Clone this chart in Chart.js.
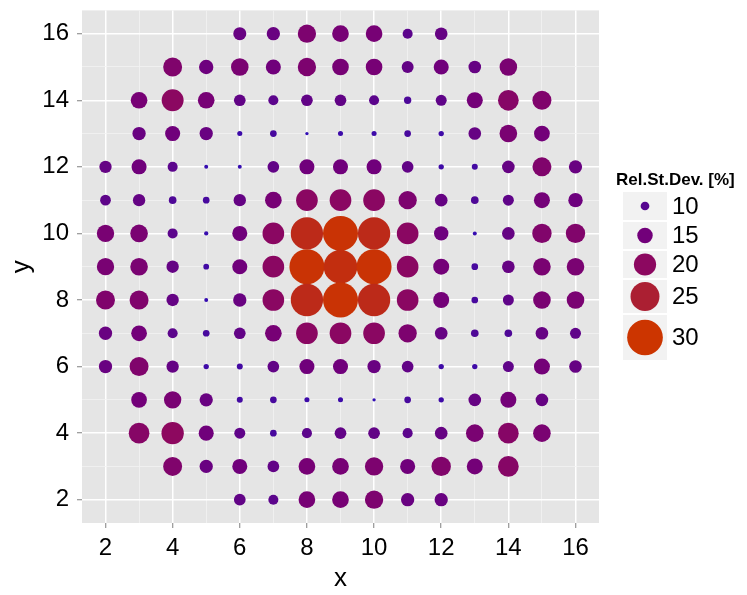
<!DOCTYPE html>
<html>
<head>
<meta charset="utf-8">
<script src="https://cdn.jsdelivr.net/npm/chart.js@4/dist/chart.umd.min.js"></script>
<style>
  html, body { margin: 0; padding: 0; background: #ffffff; }
  #wrap { width: 747px; height: 595px; }
</style>
</head>
<body>
<div id="wrap"><canvas id="c" width="747" height="595"></canvas></div>
<script>
// Relative standard deviation [%] on an integer grid, one array per row (y), left to right.
const rowY = [16, 15, 14, 13, 12, 11, 10, 9, 8, 7, 6, 5, 4, 3, 2];
const rowFirstX = [6, 4, 3, 3, 2, 2, 2, 2, 2, 2, 2, 3, 3, 4, 6];
const rsdY16 = [13.2, 13.4, 17.1, 15.9, 15.9, 11.0, 12.9];
const rsdY15 = [17.6, 14.2, 16.6, 14.7, 17.1, 15.9, 15.9, 12.4, 14.7, 12.9, 16.6];
const rsdY14 = [15.9, 19.8, 15.9, 12.2, 11.0, 12.2, 12.2, 11.0, 9.0, 11.7, 15.4, 18.9, 17.6];
const rsdY13 = [13.4, 14.7, 13.4, 7.3, 8.5, 6.0, 7.3, 7.3, 8.5, 7.5, 12.9, 16.6, 15.2];
const rsdY12 = [12.7, 14.7, 11.0, 6.5, 6.5, 12.2, 14.7, 14.7, 14.7, 12.2, 7.5, 8.0, 12.9, 17.6, 13.4];
const rsdY11 = [11.5, 12.7, 9.2, 8.5, 12.7, 15.9, 19.6, 19.6, 19.6, 17.1, 12.9, 9.2, 11.7, 15.4, 14.2];
const rsdY10 = [16.4, 16.6, 11.0, 6.7, 14.7, 19.6, 27.5, 29.5, 27.5, 19.6, 14.2, 6.5, 12.9, 17.9, 17.9];
const rsdY9  = [16.4, 16.6, 12.7, 7.8, 14.7, 19.6, 29.5, 28.5, 29.5, 19.6, 15.4, 8.5, 12.9, 16.6, 16.6];
const rsdY8  = [17.6, 17.6, 12.7, 6.5, 13.4, 19.6, 27.5, 29.5, 27.5, 19.6, 15.4, 8.5, 11.7, 16.6, 16.6];
const rsdY7  = [13.4, 15.2, 11.0, 8.5, 12.2, 15.9, 19.6, 19.6, 19.6, 17.1, 12.9, 9.2, 9.2, 12.9, 11.7];
const rsdY6  = [13.4, 17.6, 12.7, 7.5, 8.0, 12.2, 14.7, 14.7, 13.4, 12.2, 7.5, 7.5, 11.7, 15.4, 12.9];
const rsdY5  = [15.2, 16.4, 13.4, 8.0, 8.5, 7.3, 7.3, 6.0, 8.5, 7.5, 12.9, 15.4, 12.9];
const rsdY4  = [18.9, 20.1, 14.7, 11.7, 8.5, 11.0, 12.2, 12.2, 11.0, 12.9, 16.6, 18.9, 16.6];
const rsdY3  = [17.6, 13.4, 14.7, 12.2, 15.9, 15.9, 17.1, 14.7, 17.9, 15.4, 18.9];
const rsdY2  = [12.2, 11.0, 15.9, 15.9, 17.1, 13.4, 13.4];
const rsdRows = [rsdY16, rsdY15, rsdY14, rsdY13, rsdY12, rsdY11, rsdY10, rsdY9, rsdY8,
                 rsdY7, rsdY6, rsdY5, rsdY4, rsdY3, rsdY2];

// Axis ticks and legend breaks
const axisTicks = [2, 3, 4, 5, 6, 7, 8, 9, 10, 11, 12, 13, 14, 15, 16];
const legendBreaks = [10, 15, 20, 25, 30];

const FONT = "'Liberation Sans', Arial, sans-serif";

// bubbles stay inside the panel, so no extra layout room is reserved for them
Chart.registry.getController('bubble').prototype.getMaxOverflow = function () { return 0; };

// point diameter (px) grows linearly with the value
function radiusOf(v) { return Math.max(1.2, 0.675 * (v - 3.55)); }

// colour ramp: blue-violet (low) -> purple -> crimson -> orange-red (high)
const colorStops = [
  [5,  [40, 16, 190]],
  [10, [86, 6, 144]],
  [15, [114, 0, 122]],
  [20, [140, 8, 96]],
  [25, [171, 31, 50]],
  [30, [204, 53, 0]]
];
function colorOf(v) {
  if (v <= colorStops[0][0]) return 'rgb(' + colorStops[0][1].join(',') + ')';
  for (let i = 1; i < colorStops.length; i++) {
    const [v1, c1] = colorStops[i];
    const [v0, c0] = colorStops[i - 1];
    if (v <= v1) {
      const t = (v - v0) / (v1 - v0);
      const c = c0.map((a, k) => Math.round(a + (c1[k] - a) * t));
      return 'rgb(' + c.join(',') + ')';
    }
  }
  return 'rgb(' + colorStops[colorStops.length - 1][1].join(',') + ')';
}

const points = [];
rsdRows.forEach((row, i) => {
  row.forEach((v, j) => {
    points.push({ x: rowFirstX[i] + j, y: rowY[i], r: radiusOf(v), v: v });
  });
});

// panel background, drawn beneath the grid
const panelBg = {
  id: 'panelBg',
  beforeDraw(chart) {
    const { ctx, chartArea: a } = chart;
    ctx.save();
    ctx.fillStyle = '#e5e5e5';
    ctx.fillRect(a.left, a.top, a.right - a.left, a.bottom - a.top);
    ctx.restore();
  }
};

// size/colour legend at the right
const sizeLegend = {
  id: 'sizeLegend',
  afterDraw(chart) {
    const ctx = chart.ctx;
    ctx.save();
    ctx.fillStyle = '#000';
    ctx.font = 'bold 17px ' + FONT;
    ctx.textBaseline = 'middle';
    ctx.textAlign = 'left';
    ctx.fillText('Rel.St.Dev. [%]', 616, 180);
    const keys = [[192, 28], [222, 27], [251, 27], [280, 33], [315, 45]];
    const kx = 623, kw = 44;
    legendBreaks.forEach((b, i) => {
      const [top, h] = keys[i];
      ctx.fillStyle = '#f2f2f2';
      ctx.fillRect(kx, top, kw, h);
      const cy = top + h / 2;
      ctx.beginPath();
      ctx.arc(kx + kw / 2, cy, radiusOf(b), 0, Math.PI * 2);
      ctx.fillStyle = colorOf(b);
      ctx.fill();
      ctx.fillStyle = '#000';
      ctx.font = '24px ' + FONT;
      ctx.fillText(String(b), 672, cy + 1);
    });
    ctx.restore();
  }
};

const isMajor = v => v % 2 === 0;
const gridOpts = {
  color: c => isMajor(c.tick.value) ? '#ffffff' : '#f3f3f3',
  lineWidth: c => isMajor(c.tick.value) ? 1.5 : 0.8,
  tickColor: c => isMajor(c.tick.value) ? '#7f7f7f' : 'rgba(0,0,0,0)',
  tickLength: 5,
  tickWidth: 1
};
const setTicks = s => { s.ticks = axisTicks.map(v => ({ value: v })); };

new Chart(document.getElementById('c'), {
  type: 'bubble',
  data: {
    datasets: [{
      data: points,
      backgroundColor: c => colorOf(c.raw.v),
      borderWidth: 0,
      hoverBorderWidth: 0
    }]
  },
  options: {
    responsive: false,
    animation: false,
    events: [],
    layout: { padding: { left: 0, right: 148, top: 10, bottom: 0 } },
    plugins: { legend: { display: false }, tooltip: { enabled: false } },
    scales: {
      x: {
        type: 'linear',
        min: 1.3, max: 16.7,
        afterBuildTicks: setTicks,
        afterFit: s => { s.height = 72; },
        border: { display: false },
        grid: gridOpts,
        ticks: {
          autoSkip: false, maxRotation: 0, padding: 6,
          color: '#000', font: { family: FONT, size: 24 },
          callback: v => isMajor(v) ? String(v) : ''
        },
        title: { display: true, text: 'x', color: '#000', font: { family: FONT, size: 26 }, padding: { top: 0, bottom: 1 } }
      },
      y: {
        type: 'linear',
        min: 1.3, max: 16.7,
        afterBuildTicks: setTicks,
        afterFit: s => { s.width = 82; },
        border: { display: false },
        grid: gridOpts,
        ticks: {
          autoSkip: false, padding: 8,
          color: '#000', font: { family: FONT, size: 24, lineHeight: 0.2 },
          callback: v => isMajor(v) ? String(v) : ''
        },
        title: { display: true, text: 'y', color: '#000', font: { family: FONT, size: 26 }, padding: { top: 6, bottom: 0 } }
      }
    }
  },
  plugins: [panelBg, sizeLegend]
});
</script>
</body>
</html>
